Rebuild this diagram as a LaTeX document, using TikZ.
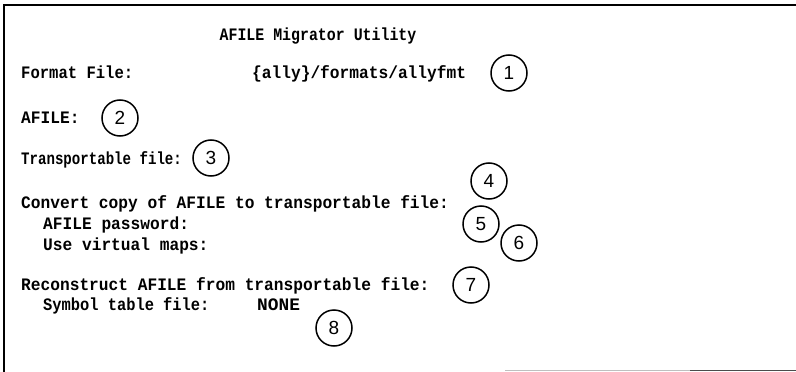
\documentclass[tikz,border=0pt]{standalone}
\usepackage{graphicx}
\usepackage{fontspec}
\setmonofont{Liberation Mono}
\newfontfamily\numfont{Liberation Sans}
\newcommand\stx[2]{\scalebox{#1}[1.08]{#2}}
\begin{document}
\begin{tikzpicture}[x=1pt,y=-1pt,
  lbl/.style={anchor=base west, inner sep=0pt, font=\ttfamily\bfseries\fontsize{16.2}{18}\selectfont},
  ttl/.style={anchor=base, inner sep=0pt, font=\ttfamily\bfseries\fontsize{16.2}{18}\selectfont},
  num/.style={circle, draw, line width=1.5pt, minimum size=36pt, inner sep=0pt, font=\numfont\fontsize{19}{19}\selectfont},
  frame/.style={line width=2pt, black},
]
\useasboundingbox (0,0) rectangle (796,372);
\fill[white] (0,0) rectangle (796,372);
% frame
\coordinate (tl) at (3.5,5);
\coordinate (tr) at (796,5);
\coordinate (bl) at (3.5,372);
\draw[frame] (tr) -- (tl) -- (bl);
\coordinate (b1) at (505,370.5);
\coordinate (b2) at (690,370.5);
\coordinate (b3) at (796,370.5);
\draw[line width=1.5pt, black!25] (b1) -- (b2);
\draw[line width=1.5pt, black!70] (b2) -- (b3);
% texts
\node[ttl] (title) at (318,40) {\stx{0.92}{AFILE Migrator Utility}};
\node[lbl] (fmt) at (21,78) {\stx{0.96}{Format File:}};
\node[lbl] (fmtv) at (252,78) {\stx{1}{\{ally\}/formats/allyfmt}};
\node[lbl] (afile) at (21,123) {\stx{1}{AFILE:}};
\node[lbl] (trans) at (21,164) {\stx{0.87}{Transportable file:}};
\node[lbl] (conv) at (21,208) {\stx{1}{Convert copy of AFILE to transportable file:}};
\node[lbl] (pwd) at (43,229) {\stx{1}{AFILE password:}};
\node[lbl] (virt) at (43,250) {\stx{1}{Use virtual maps:}};
\node[lbl] (recon) at (21,290) {\stx{1}{Reconstruct AFILE from transportable file:}};
\node[lbl] (sym) at (43,310) {\stx{0.95}{Symbol table file:}};
\node[lbl] (none) at (257,310) {\stx{1.1}{NONE}};
% callouts
\node[num] (c1) at (509,73) {1};
\node[num] (c2) at (120,118) {2};
\node[num] (c3) at (211,158) {3};
\node[num] (c4) at (489,181) {4};
\node[num] (c5) at (481,224) {5};
\node[num] (c6) at (519,243) {6};
\node[num] (c7) at (471,285) {7};
\node[num] (c8) at (334,328) {8};
\end{tikzpicture}
\end{document}
